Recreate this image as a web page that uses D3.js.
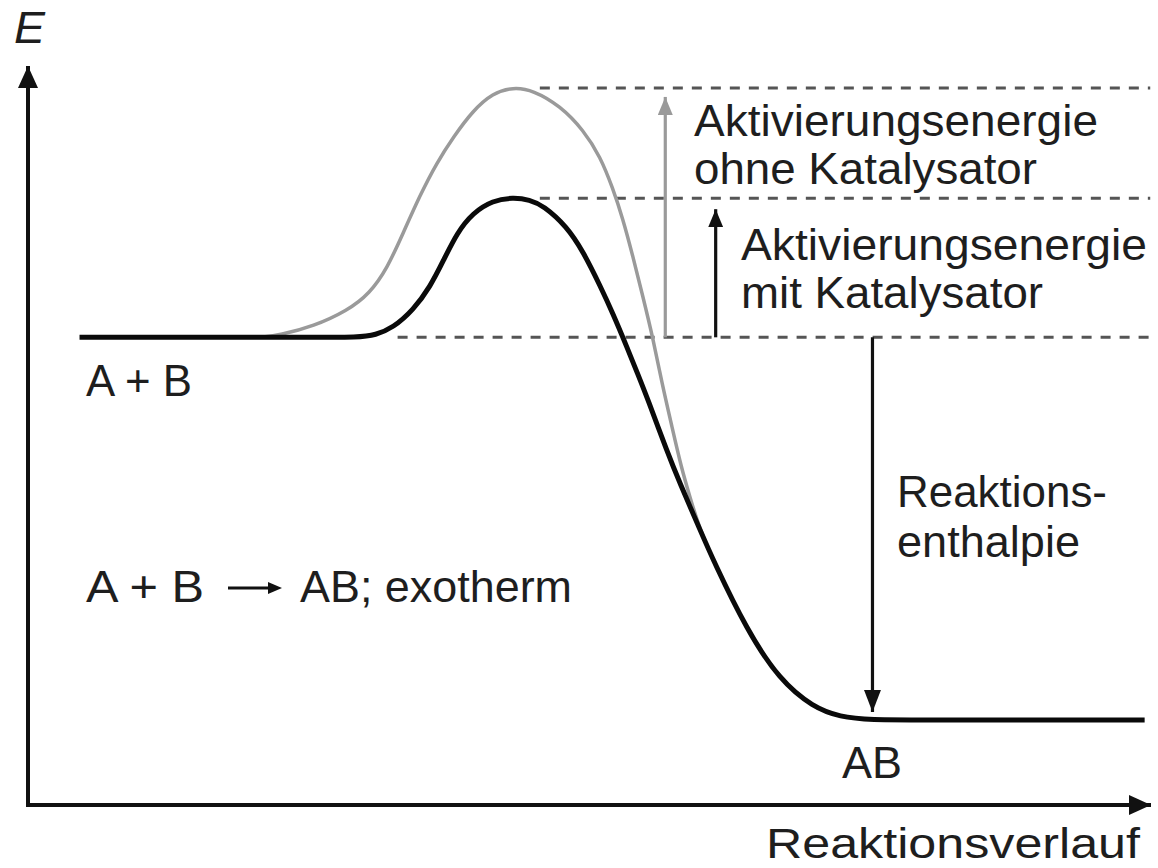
<!DOCTYPE html>
<html>
<head>
<meta charset="utf-8">
<script src="https://cdn.jsdelivr.net/npm/d3@7"></script>
<style>
  body { margin: 0; background: #fff; }
  svg text { font-family: "Liberation Sans", Arial, sans-serif; fill: #1e1e1e; }
</style>
</head>
<body>
<svg id="chart" width="1158" height="868"></svg>
<script>
// reaction coordinate (0..100) and energy (0..100)
var catX = [4.6, 25.0, 29.6, 31.0, 32.6, 34.4, 35.9, 37.1, 38.3, 39.7, 41.5, 43.3, 44.8, 46.0, 48.1, 49.6, 51.1, 52.2, 53.5, 54.4, 55.3, 57.1, 58.2, 60.0, 61.2, 64.2, 67.1, 70.1, 72.5, 75.2, 80.0, 99.7]
var catE = [63.2, 63.2, 63.2, 63.5, 64.5, 66.9, 70.0, 73.6, 77.3, 80.0, 81.7, 82.1, 81.8, 81.0, 78.2, 74.7, 70.1, 66.5, 61.8, 58.4, 55.0, 47.6, 43.5, 37.2, 33.0, 23.6, 16.9, 13.2, 11.9, 11.5, 11.5, 11.5]

var noCatX = [20.7, 22.5, 25.5, 28.5, 30.5, 32.1, 33.5, 35.0, 36.5, 38.0, 39.7, 41.5, 43.3, 45.1, 47.5, 49.6, 51.1, 52.2, 53.1, 54.0, 54.9, 55.8, 56.6, 57.5, 58.3, 59.1, 60.0, 61.2]
var noCatE = [63.2, 63.5, 64.7, 66.8, 69.1, 72.6, 77.3, 82.4, 86.8, 90.3, 93.8, 96.2, 97.0, 96.6, 94.5, 91.2, 87.6, 83.4, 79.3, 74.2, 68.7, 63.1, 57.0, 51.1, 45.8, 41.6, 37.2, 33.0]

// energy levels: products, reactants, peak with catalyst, peak without
var levelNames = ['AB', 'A+B', 'mitKat', 'ohneKat']
var levelE = [11.5, 63.2, 82.0, 96.9]

var axisLabels = ['E', 'Reaktionsverlauf']
var noCatLabel = ['Aktivierungsenergie', 'ohne Katalysator']
var catLabel = ['Aktivierungsenergie', 'mit Katalysator']
var enthalpyLabel = ['Reaktions-', 'enthalpie']
var speciesLabels = ['A + B', 'AB']
var equationLabel = ['A + B', 'AB; exotherm']

var svg = d3.select('#chart')
var width = 1158
var height = 868

var x = d3.scaleLinear().domain([0, 100]).range([28, 1148])
var y = d3.scaleLinear().domain([0, 100]).range([805, 65])

var lvl = function(name) { return y(levelE[levelNames.indexOf(name)]) }

svg.append('rect').attr('width', width).attr('height', height).attr('fill', '#fff')

var defs = svg.append('defs')
function head(id, color, len, wid) {
  defs.append('marker')
    .attr('id', id)
    .attr('markerUnits', 'userSpaceOnUse')
    .attr('viewBox', '0 0 ' + len + ' ' + wid)
    .attr('refX', len).attr('refY', wid / 2)
    .attr('markerWidth', len).attr('markerHeight', wid)
    .attr('orient', 'auto')
    .append('path')
    .attr('d', 'M0,0L' + len + ',' + wid / 2 + 'L0,' + wid + 'Z')
    .attr('fill', color)
}
head('axisHead', '#111', 22, 20)
head('grayHead', '#9a9a9a', 18, 15)
head('blackHead', '#111', 18, 15)
head('bigHead', '#111', 22, 17)

// axes: no ticks, just the domain lines with arrow heads
var xAxis = d3.axisBottom(x).ticks(0).tickSizeOuter(0)
var yAxis = d3.axisLeft(y).ticks(0).tickSizeOuter(0)

svg.append('g').attr('class', 'axis')
  .attr('transform', 'translate(0,' + y(0) + ')')
  .call(xAxis)
  .select('.domain')
  .attr('stroke', '#111').attr('stroke-width', 4)
  .attr('d', 'M' + x(0) + ',0H' + (x(100) + 3))
  .attr('marker-end', 'url(#axisHead)')

svg.append('g').attr('class', 'axis')
  .attr('transform', 'translate(' + x(0) + ',0)')
  .call(yAxis)
  .select('.domain')
  .attr('stroke', '#111').attr('stroke-width', 4)
  .attr('d', 'M0,' + (y(0) + 2) + 'V' + (y(100) + 1))
  .attr('marker-end', 'url(#axisHead)')

// dashed reference levels
var dashes = [
  {name: 'ohneKat', from: 45.7},
  {name: 'mitKat', from: 45.7},
  {name: 'A+B', from: 33.0}
]
svg.selectAll('line.level').data(dashes).enter().append('line')
  .attr('class', 'level')
  .attr('x1', function(d) { return x(d.from) })
  .attr('x2', x(100.2))
  .attr('y1', function(d) { return lvl(d.name) })
  .attr('y2', function(d) { return lvl(d.name) })
  .attr('stroke', '#555')
  .attr('stroke-width', 3)
  .attr('stroke-dasharray', '10,9')

// energy curves
var line = d3.line()
  .x(function(d) { return x(d[0]) })
  .y(function(d) { return y(d[1]) })
  .curve(d3.curveBasis)

svg.append('path')
  .datum(d3.zip(noCatX, noCatE))
  .attr('d', line)
  .attr('fill', 'none')
  .attr('stroke', '#9a9a9a')
  .attr('stroke-width', 3.5)

svg.append('path')
  .datum(d3.zip(catX, catE))
  .attr('d', line)
  .attr('fill', 'none')
  .attr('stroke', '#0a0a0a')
  .attr('stroke-width', 5)

// vertical energy arrows
var arrows = [
  {at: 56.9, from: 'A+B', to: 'ohneKat', color: '#9a9a9a', marker: 'grayHead', gap: 9},
  {at: 61.4, from: 'A+B', to: 'mitKat', color: '#111', marker: 'blackHead', gap: 11},
  {at: 75.4, from: 'A+B', to: 'AB', color: '#111', marker: 'bigHead', gap: -8}
]
svg.selectAll('line.arrow').data(arrows).enter().append('line')
  .attr('class', 'arrow')
  .attr('x1', function(d) { return x(d.at) })
  .attr('x2', function(d) { return x(d.at) })
  .attr('y1', function(d) { return lvl(d.from) })
  .attr('y2', function(d) { return lvl(d.to) + d.gap })
  .attr('stroke', function(d) { return d.color })
  .attr('stroke-width', 3.2)
  .attr('marker-end', function(d) { return 'url(#' + d.marker + ')' })

// text
function label(str, px, py, len, size, italic) {
  var t = svg.append('text')
    .attr('x', px).attr('y', py)
    .attr('font-size', size || 44)
    .text(str)
  if (len) t.attr('textLength', len).attr('lengthAdjust', 'spacingAndGlyphs')
  if (italic) t.attr('font-style', 'italic')
  return t
}

label(axisLabels[0], 14, 43, 31, 44, true)
label(axisLabels[1], 766, 858, 374, 42)

label(noCatLabel[0], 694, 136, 404)
label(noCatLabel[1], 694, 184, 343)
label(catLabel[0], 741, 260, 406)
label(catLabel[1], 741, 308, 302)

label(enthalpyLabel[0], 897, 507, 210)
label(enthalpyLabel[1], 897, 557, 183)

label(speciesLabels[0], 86, 396, 106)
label(speciesLabels[1], 842, 778, 60)

label(equationLabel[0], 86, 602, 118)
label(equationLabel[1], 300, 602, 272)
// small reaction arrow inside the equation
svg.append('line')
  .attr('x1', 228).attr('x2', 272)
  .attr('y1', 588).attr('y2', 588)
  .attr('stroke', '#111').attr('stroke-width', 3)
svg.append('path')
  .attr('d', 'M268,582L282,588L268,594Z')
  .attr('fill', '#111')
</script>
</body>
</html>
